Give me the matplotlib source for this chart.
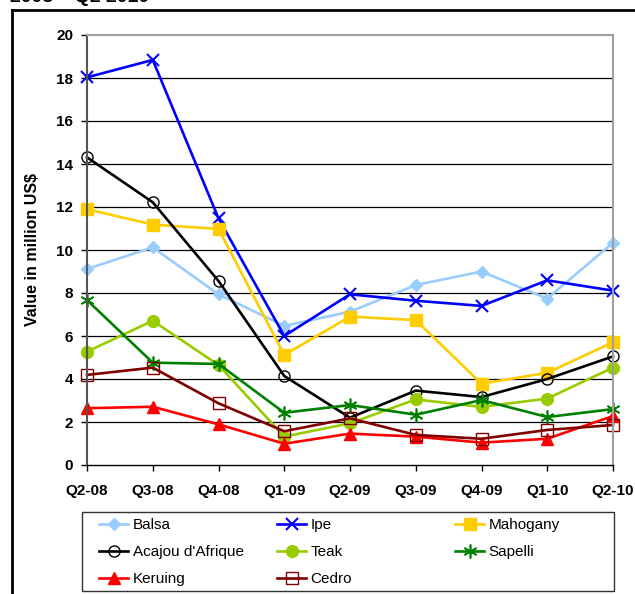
import matplotlib
matplotlib.use('Agg')
from matplotlib import pyplot as plt
from matplotlib.lines import Line2D
from matplotlib.patches import Rectangle

plt.rcParams['font.family'] = ['Liberation Sans', 'DejaVu Sans']

quarters = ['Q2-08', 'Q3-08', 'Q4-08', 'Q1-09', 'Q2-09', 'Q3-09', 'Q4-09', 'Q1-10', 'Q2-10']

balsa = [9.12, 10.12, 7.94, 6.47, 7.13, 8.37, 9.00, 7.74, 10.34]
ipe = [18.03, 18.84, 11.47, 6.00, 7.94, 7.64, 7.40, 8.59, 8.11]
mahogany = [11.90, 11.18, 10.98, 5.12, 6.90, 6.74, 3.78, 4.29, 5.71]
acajou = [14.31, 12.22, 8.56, 4.14, 2.20, 3.46, 3.16, 4.00, 5.05]
teak = [5.27, 6.71, 4.65, 1.32, 1.94, 3.05, 2.70, 3.09, 4.53]
sapelli = [7.67, 4.76, 4.70, 2.43, 2.79, 2.34, 3.02, 2.23, 2.60]
keruing = [2.64, 2.71, 1.89, 0.99, 1.46, 1.32, 1.04, 1.22, 2.28]
cedro = [4.19, 4.53, 2.87, 1.57, 2.17, 1.40, 1.22, 1.63, 1.86]

W, H = 635, 594
fig = plt.figure(figsize=(W / 100, H / 100), dpi=100)
ax = fig.add_axes([87 / W, 1 - 465 / H, 526 / W, 430 / H])

x = range(len(quarters))
lw = 1.9
h = {}
h['Balsa'], = ax.plot(x, balsa, color='#99CCFF', lw=lw, marker='D', ms=6, label='Balsa')
h['Ipe'], = ax.plot(x, ipe, color='#0000FF', lw=lw, marker='x', ms=8, mew=1.5, label='Ipe')
h['Mahogany'], = ax.plot(x, mahogany, color='#FFCC00', lw=lw, marker='s', ms=8, label='Mahogany')
h['Acajou'], = ax.plot(x, acajou, color='black', lw=lw, marker='o', ms=8, mfc='none', mew=1.0,
                      label="Acajou d'Afrique")
h['Teak'], = ax.plot(x, teak, color='#99CC00', lw=lw, marker='o', ms=8.5, label='Teak')
h['Sapelli'], = ax.plot(x, sapelli, color='#008000', lw=lw, marker=(6, 2, 0), ms=10, mew=1.2,
                       label='Sapelli')
h['Keruing'], = ax.plot(x, keruing, color='#FF0000', lw=lw, marker='^', ms=8.5, label='Keruing')
h['Cedro'], = ax.plot(x, cedro, color='#800000', lw=lw, marker='s', ms=8, mfc='none', mew=1.0,
                     label='Cedro')
for ln in h.values():
    ln.set_clip_on(False)

# axes
ax.set_xlim(0, len(quarters) - 1)
ax.set_ylim(0, 20)
ax.set_yticks(range(0, 21, 2))
ax.set_xticks(list(x))
ax.set_xticklabels(quarters)
for g in range(2, 20, 2):
    ax.axhline(g, color='black', lw=0.9, zorder=0.5)
ax.spines['top'].set_color('#A0A0A0')
ax.spines['top'].set_linewidth(1.5)
ax.spines['right'].set_color('#A0A0A0')
ax.spines['right'].set_linewidth(1.5)
ax.spines['left'].set_color('#555555')
ax.spines['left'].set_linewidth(1.5)
ax.spines['bottom'].set_color('black')
ax.spines['bottom'].set_linewidth(1.0)
ax.tick_params(axis='x', direction='out', length=4, width=1, pad=10, labelsize=11)
ax.tick_params(axis='y', direction='out', length=4, width=1, pad=6, labelsize=11)
for lab in ax.get_xticklabels() + ax.get_yticklabels():
    lab.set_fontweight('bold')
ax.set_ylabel('Value in million US$', fontsize=11.5, fontweight='bold')
ax.yaxis.set_label_coords(-0.089, 0.5)

# legend, three columns
cols = [['Balsa', 'Acajou', 'Keruing'], ['Ipe', 'Teak', 'Cedro'], ['Mahogany', 'Sapelli']]
for i, col in enumerate(cols):
    lg = fig.legend([h[k] for k in col], [h[k].get_label() for k in col],
                    loc='upper left', bbox_to_anchor=((99 + 178 * i) / W, 1 - 518 / H),
                    frameon=False, fontsize=11, handlelength=1.9, handletextpad=0.3,
                    labelspacing=0.85, borderpad=0, borderaxespad=0)
fig.patches.append(Rectangle((82 / W, 1 - 591 / H), 532 / W, 79 / H, transform=fig.transFigure,
                             fill=False, edgecolor='#333333', lw=1.0))

# outer frame and cut title
fig.lines.append(Line2D([12 / W, 1], [1 - 10 / H, 1 - 10 / H], transform=fig.transFigure,
                        color='black', lw=2))
fig.lines.append(Line2D([12 / W, 12 / W], [1 - 10 / H, 0], transform=fig.transFigure,
                        color='black', lw=2))
fig.text(10 / W, 1 - 2 / H, '2008 \u2013 Q2 2010', fontsize=14, fontweight='bold',
         va='baseline', ha='left')

fig.savefig('out.png', dpi=100)
